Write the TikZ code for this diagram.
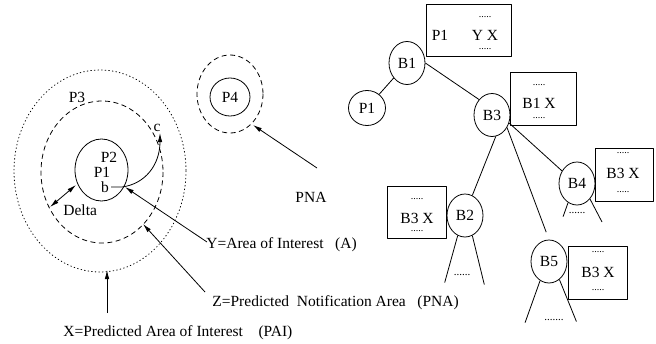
\documentclass[tikz,border=0pt]{standalone}
\usepackage{fontspec}
\setmainfont{Liberation Serif}
\usetikzlibrary{arrows.meta,shapes.geometric}
\newcommand\figfont{\fontsize{15.5}{18}\selectfont}
\newcommand\dotfont{\fontsize{10}{12}\selectfont}
\tikzset{
  arr/.style={-{Latex[length=9pt,width=4.5pt]}},
  darr/.style={{Latex[length=9pt,width=4.5pt]}-{Latex[length=9pt,width=4.5pt]}},
  lbl/.style={inner sep=0pt,font=\figfont},
  dts/.style={inner sep=0pt,text height=1.2pt,text depth=0pt,font=\dotfont},
  sdts/.style={inner sep=0pt,text height=1.3pt,text depth=0pt,font=\fontsize{11}{12}\selectfont},
  bnode/.style={draw,ellipse,inner sep=0pt,minimum width=36pt,minimum height=43pt,font=\figfont},
  infobox/.style={draw,inner sep=0pt},
  dotline/.style={dash pattern=on 0.8pt off 2.8pt,line cap=round},
  dashline/.style={dash pattern=on 5pt off 3.5pt},
}
\begin{document}
\begin{tikzpicture}[x=1pt,y=-1pt,line join=round,line width=0.8pt]
\useasboundingbox (0,0) rectangle (656,343);
%==areas round P1
\draw[dotline] (100,171) ellipse [x radius=86,y radius=101];
\draw[dashline] (102,172) ellipse [x radius=61,y radius=71];
\draw (101.5,170) ellipse [x radius=26.5,y radius=31];
\node[lbl,anchor=base] (p3) at (77,102) {P3};
\node[lbl,anchor=base] (p2) at (109,162) {P2};
\node[lbl,anchor=base] (p1) at (102,177) {P1};
\node[lbl,anchor=base] (b) at (105,192) {b};
\node[lbl,anchor=base] (c) at (157,131) {c};
\node[lbl,anchor=base west] (delta) at (63,215) {Delta};
%==move from b to c
\coordinate (bpt) at (111,187);
\coordinate (cpt) at (160,133);
\draw[arr] (bpt)--(122,187) .. controls (145,184) and (160,165) .. (cpt);
%==Delta between the two borders
\coordinate (dOut) at (50,207);
\coordinate (dIn) at (76,185);
\draw[darr] (dOut)--(dIn);
%==texts and their arrows
\node[lbl,anchor=base west] (lblY) at (206,248) {Y=Area of Interest\ \ \ (A)};
\node[lbl,anchor=base west] (lblZ) at (212,306) {Z=Predicted\ \ Notification Area\ \ \ (PNA)};
\node[lbl,anchor=base west] (lblX) at (63,336) {X=Predicted Area of Interest\ \ \ \ (PAI)};
\coordinate (yTail) at (207,242);
\coordinate (yTip) at (125,187);
\coordinate (zTail) at (205,292);
\coordinate (zTip) at (143,224);
\coordinate (xTail) at (107,313);
\coordinate (xTip) at (107,270);
\draw[arr] (yTail)--(yTip);
\draw[arr] (zTail)--(zTip);
\draw[arr] (xTail)--(xTip);
%==P4
\draw[dashline] (230,94) ellipse [x radius=33,y radius=39];
\draw (230,97) ellipse [x radius=20,y radius=19];
\node[lbl] (p4) at (230,97) {P4};
\node[lbl,anchor=base] (pna) at (311,202) {PNA};
\coordinate (pnaTail) at (317,168);
\coordinate (pnaTip) at (253,125);
\draw[arr] (pnaTail)--(pnaTip);
%==tree
\node[bnode] (b1) at (407,63) {B1};
\node[bnode,minimum width=37pt,minimum height=35pt] (t1) at (367,108) {P1};
\node[bnode] (b3) at (492,115) {B3};
\node[bnode] (b4) at (577,183.5) {B4};
\node[bnode] (b2) at (465,215.5) {B2};
\node[bnode] (b5) at (549,261.5) {B5};
\draw (b1)--(t1);
\draw (b1.east)--(b3.130);
\draw (b3.-80)--(b2.70);
\draw[shorten >=8pt] (b3.-40)--(b5.north);
\draw (b3.-25)--(b4.140);
%==subtrees
\draw (b2.-110)--++(-13,47) coordinate (b2l);
\draw (b2.-70)--++(12,49) coordinate (b2r);
\node[sdts] (b2d) at (462,275) {......};
\draw (b4.-115)--++(-5,14) coordinate (b4l);
\draw (b4.-50)--++(12,23) coordinate (b4r);
\node[sdts] (b4d) at (577,213) {......};
\draw (b5.-115)--++(-15,42) coordinate (b5l);
\draw (b5.-60)--++(17,42) coordinate (b5r);
\node[sdts] (b5d) at (554,320) {.......};
%==boxes
\node[infobox,minimum width=85pt,minimum height=52pt] (boxP1) at (468.5,30) {};
\node[lbl] (boxP1a) at (440,35) {P1};
\node[lbl] (boxP1b) at (485,35) {Y X};
\node[dts] (boxP1t) at (485,17) {.....};
\node[dts] (boxP1u) at (485,49) {.....};
\node[infobox,minimum width=66pt,minimum height=53pt] (boxB1) at (543,98.5) {};
\node[lbl] (boxB1a) at (539,103) {B1 X};
\node[dts] (boxB1t) at (539,85) {.....};
\node[dts] (boxB1u) at (539,118) {.....};
\node[infobox,minimum width=58pt,minimum height=53pt] (boxB4) at (624,174.5) {};
\node[lbl] (boxB4a) at (623,173) {B3 X};
\node[dts] (boxB4t) at (623,153) {.....};
\node[dts] (boxB4u) at (623,192) {.....};
\node[infobox,minimum width=59pt,minimum height=52pt] (boxB2) at (416.5,212) {};
\node[lbl] (boxB2a) at (417,218) {B3 X};
\node[dts] (boxB2t) at (417,199) {.....};
\node[dts] (boxB2u) at (417,231) {.....};
\node[infobox,minimum width=59pt,minimum height=53pt] (boxB5) at (597.5,272.5) {};
\node[lbl] (boxB5a) at (598,272) {B3 X};
\node[dts] (boxB5t) at (598,252) {.....};
\node[dts] (boxB5u) at (598,290) {.....};
\end{tikzpicture}
\end{document}
